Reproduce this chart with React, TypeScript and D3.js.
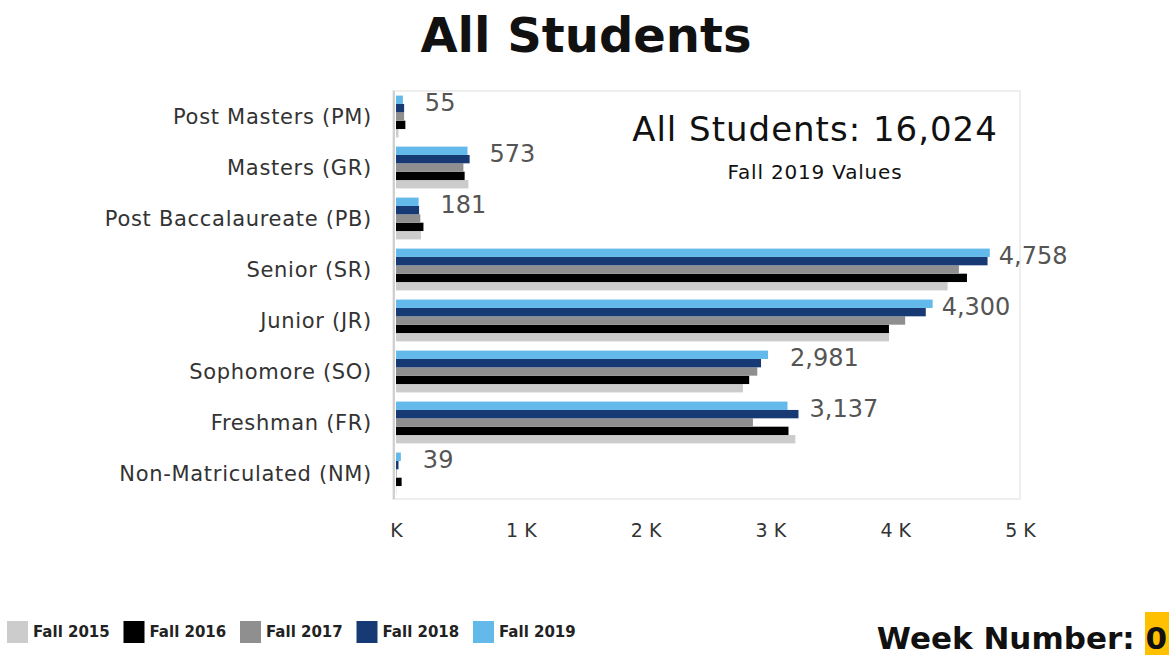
import React from "react";
import * as d3 from "d3";

const categories = [
  "Post Masters (PM)",
  "Masters (GR)",
  "Post Baccalaureate (PB)",
  "Senior (SR)",
  "Junior (JR)",
  "Sophomore (SO)",
  "Freshman (FR)",
  "Non-Matriculated (NM)",
];

const fall2015 = [20, 580, 200, 4420, 3950, 2780, 3200, 3];
const fall2016 = [75, 550, 220, 4575, 3950, 2830, 3145, 45];
const fall2017 = [65, 540, 195, 4510, 4080, 2895, 2860, 5];
const fall2018 = [65, 590, 185, 4740, 4245, 2925, 3225, 20];
const fall2019 = [55, 573, 181, 4758, 4300, 2981, 3137, 39];

const seriesNames = ["Fall 2015", "Fall 2016", "Fall 2017", "Fall 2018", "Fall 2019"];
const seriesColors = ["#cccccc", "#000000", "#8f8f8f", "#173a74", "#63b9e9"];
const xTicks = [0, 1000, 2000, 3000, 4000, 5000];

const W = 1172;
const H = 655;
const font = "'DejaVu Sans', sans-serif";

function drawChart(svg) {
  svg.selectAll("*").remove();

  const series = [fall2015, fall2016, fall2017, fall2018, fall2019];
  const data = categories.map((c, i) => ({
    cat: c,
    vals: seriesNames.map((s, j) => ({ name: s, value: series[j][i], color: seriesColors[j] })),
  }));

  const x = d3.scaleLinear().domain([0, 5000]).range([396, 1020]);
  const y = d3
    .scaleBand()
    .domain(categories)
    .range([91, 499])
    .paddingInner(0.18)
    .paddingOuter(0.09);
  // top to bottom: Fall 2019 ... Fall 2015
  const sub = d3
    .scaleBand()
    .domain(seriesNames.slice().reverse())
    .range([0, y.bandwidth()]);

  // title
  svg
    .append("text")
    .attr("x", 586)
    .attr("y", 52)
    .attr("text-anchor", "middle")
    .attr("font-family", font)
    .attr("font-weight", "bold")
    .attr("font-size", 48)
    .attr("fill", "#111")
    .text("All Students");

  // plot frame
  svg
    .append("rect")
    .attr("x", 393)
    .attr("y", 91)
    .attr("width", 627)
    .attr("height", 408)
    .attr("fill", "none")
    .attr("stroke", "#eeeeee")
    .attr("stroke-width", 2);
  svg
    .append("line")
    .attr("x1", 394)
    .attr("x2", 394)
    .attr("y1", 91)
    .attr("y2", 499)
    .attr("stroke", "#d0d0d0")
    .attr("stroke-width", 2);

  const groups = svg
    .append("g")
    .selectAll("g")
    .data(data)
    .join("g")
    .attr("transform", (d) => `translate(0,${y(d.cat)})`);

  groups
    .selectAll("rect")
    .data((d) => d.vals)
    .join("rect")
    .attr("x", x(0))
    .attr("y", (d) => sub(d.name))
    .attr("width", (d) => x(d.value) - x(0))
    .attr("height", sub.bandwidth())
    .attr("fill", (d) => d.color);

  // value labels for Fall 2019
  groups
    .append("text")
    .attr("x", (d, i) => x(fall2019[i]) + (fall2019[i] > 4000 ? 9 : 22))
    .attr("y", (d) => sub("Fall 2019") + sub.bandwidth() / 2 + 3)
    .attr("dy", "0.35em")
    .attr("font-family", font)
    .attr("font-size", 24)
    .attr("fill", "#555")
    .text((d, i) => d3.format(",")(fall2019[i]));

  // category labels
  svg
    .append("g")
    .selectAll("text")
    .data(categories)
    .join("text")
    .attr("x", 372)
    .attr("y", (d) => y(d) + y.bandwidth() / 2)
    .attr("dy", "0.35em")
    .attr("text-anchor", "end")
    .attr("font-family", font)
    .attr("font-size", 21)
    .attr("letter-spacing", 0.7)
    .attr("fill", "#333")
    .text((d) => d);

  // x axis
  const xAxis = svg
    .append("g")
    .attr("transform", "translate(0,520)")
    .call(
      d3
        .axisBottom(x)
        .tickValues(xTicks)
        .tickSize(0)
        .tickFormat((d) => (d === 0 ? "K" : `${d / 1000} K`))
    );
  xAxis.select(".domain").remove();
  xAxis
    .selectAll("text")
    .attr("font-family", font)
    .attr("font-size", 19)
    .attr("fill", "#333");

  // annotation
  const total = d3.sum(fall2019);
  svg
    .append("text")
    .attr("x", 815)
    .attr("y", 141)
    .attr("text-anchor", "middle")
    .attr("font-family", font)
    .attr("font-size", 34)
    .attr("letter-spacing", 1)
    .attr("fill", "#111")
    .text(`All Students: ${d3.format(",")(total)}`);
  svg
    .append("text")
    .attr("x", 815)
    .attr("y", 179)
    .attr("text-anchor", "middle")
    .attr("font-family", font)
    .attr("font-size", 20)
    .attr("letter-spacing", 0.8)
    .attr("fill", "#111")
    .text("Fall 2019 Values");

  // legend
  const legend = svg
    .append("g")
    .selectAll("g")
    .data(seriesNames)
    .join("g")
    .attr("transform", (d, i) => `translate(${7 + i * 116.5},621)`);
  legend
    .append("rect")
    .attr("width", 21)
    .attr("height", 22)
    .attr("fill", (d, i) => seriesColors[i]);
  legend
    .append("text")
    .attr("x", 26)
    .attr("y", 11)
    .attr("dy", "0.35em")
    .attr("font-family", font)
    .attr("font-size", 15)
    .attr("font-weight", 600)
    .attr("fill", "#222")
    .text((d) => d);

  // week number
  svg
    .append("rect")
    .attr("x", 1145)
    .attr("y", 612)
    .attr("width", 24)
    .attr("height", 43)
    .attr("fill", "#ffc000");
  svg
    .append("text")
    .attr("x", 1167)
    .attr("y", 649)
    .attr("text-anchor", "end")
    .attr("font-family", font)
    .attr("font-weight", "bold")
    .attr("font-size", 31)
    .attr("fill", "#111")
    .text("Week Number: 0");

  return svg.node();
}

function BarChart() {
  const ref = React.useRef(null);
  React.useEffect(() => {
    drawChart(d3.select(ref.current));
  }, []);
  return (
    <svg
      ref={ref}
      width={W}
      height={H}
      style={{ position: "absolute", left: 0, top: 0, background: "#fff" }}
    />
  );
}

export default function App() {
  return <BarChart />;
}
